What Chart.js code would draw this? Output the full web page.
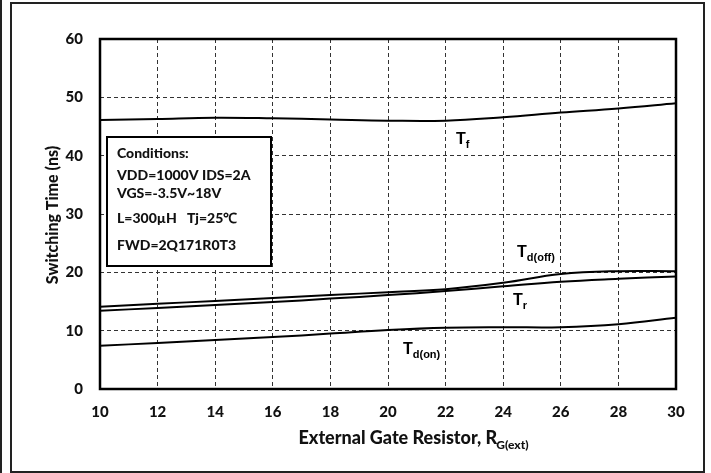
<!DOCTYPE html>
<html>
<head>
<meta charset="utf-8">
<script src="https://cdn.jsdelivr.net/npm/chart.js@4"></script>
<style>
  body { margin: 0; background: #fff; }
  #wrap { position: relative; width: 711px; height: 473px; }
  #chart { position: absolute; left: 0; top: 0; }
  .edge { position: absolute; left: 0; top: 0; width: 2px; height: 473px; background: #222; }
  .frame { position: absolute; left: 10px; top: 2px; width: 691px; height: 467px; border: 2px solid #222; pointer-events: none; }
</style>
</head>
<body>
<div id="wrap">
  <canvas id="chart" width="711" height="473"></canvas>
  <div class="edge"></div>
  <div class="frame"></div>
</div>
<script>
// ── DATA ──
const resistance = [10, 12, 14, 16, 18, 20, 22, 24, 26, 28, 30];
const tFall   = [46.1, 46.3, 46.5, 46.4, 46.2, 46.0, 46.0, 46.6, 47.4, 48.1, 49.0];
const tdOff   = [14.1, 14.6, 15.1, 15.6, 16.1, 16.6, 17.1, 18.2, 19.7, 20.2, 20.2];
const tRise   = [13.4, 13.9, 14.4, 14.9, 15.5, 16.1, 16.8, 17.6, 18.4, 18.9, 19.3];
const tdOn    = [7.4, 7.9, 8.4, 8.9, 9.5, 10.1, 10.5, 10.6, 10.6, 11.1, 12.2];
const yTicks  = [0, 10, 20, 30, 40, 50, 60];

// curve labels: [main, subscript, x value, y value]
const curveLabels = [
    ['T', 'f',      22.36, 42.0],
    ['T', 'd(off)', 24.48, 22.6],
    ['T', 'r',      24.34, 14.4],
    ['T', 'd(on)',  20.52, 6.0],
];

const conditions = [
    'Conditions:',
    'VDD=1000V IDS=2A',
    'VGS=-3.5V~18V',
    'L=300\u00b5H   Tj=25\u2103',
    'FWD=2Q171R0T3',
];

const TEXT = '#111';
const TICK_FONT = { family: 'Lato', size: 15, weight: 900 };
const GRID = { color: '#333', lineWidth: 1, drawTicks: false };

const toPoints = ys => resistance.map((x, i) => ({ x, y: ys[i] }));
const line = ys => ({
    data: toPoints(ys),
    borderColor: '#000',
    borderWidth: 2,
    pointRadius: 0,
    fill: false,
    tension: 0.4,
});

// ── OVERLAY: plot frame, conditions box, titles, curve labels ──
const overlay = {
    id: 'overlay',
    afterDatasetsDraw(chart) {
        const { ctx, chartArea: a, scales: { x, y } } = chart;
        ctx.save();

        // plot border
        ctx.strokeStyle = '#000';
        ctx.lineWidth = 2.5;
        ctx.strokeRect(a.left, a.top, a.right - a.left, a.bottom - a.top);

        // conditions box
        const bx = a.left + 7, by = a.top + 98, bw = 164, bh = 129;
        ctx.fillStyle = '#fff';
        ctx.fillRect(bx, by, bw, bh);
        ctx.lineWidth = 2;
        ctx.strokeRect(bx, by, bw, bh);
        ctx.fillStyle = TEXT;
        ctx.font = '900 14px Lato';
        ctx.textAlign = 'left';
        ctx.textBaseline = 'alphabetic';
        const baselines = [21, 43, 61, 86, 113];
        conditions.forEach((t, i) => ctx.fillText(t, bx + 10, by + baselines[i]));

        // curve labels with subscripts
        ctx.fillStyle = '#000';
        curveLabels.forEach(([main, sub, vx, vy]) => {
            const px = x.getPixelForValue(vx), py = y.getPixelForValue(vy);
            ctx.font = 'bold 16px "Liberation Sans"';
            ctx.fillText(main, px, py);
            const w = ctx.measureText(main).width;
            ctx.font = 'bold 11px "Liberation Sans"';
            ctx.fillText(sub, px + w, py + 4);
        });

        // y axis title
        ctx.fillStyle = TEXT;
        ctx.font = '900 16px Lato';
        ctx.save();
        ctx.translate(53, (a.top + a.bottom) / 2 + 1);
        ctx.rotate(-Math.PI / 2);
        ctx.textAlign = 'center';
        ctx.textBaseline = 'middle';
        ctx.fillText('Switching Time (ns)', 0, 0);
        ctx.restore();

        // x axis title
        const main = 'External Gate Resistor, R';
        ctx.font = '900 18px Lato';
        const mw = ctx.measureText(main).width;
        ctx.font = '900 12px Lato';
        const sw = ctx.measureText('G(ext)').width;
        const tx = (a.left + a.right) / 2 + 26 - (mw + sw) / 2;
        ctx.font = '900 18px Lato';
        ctx.fillText(main, tx, 444);
        ctx.font = '900 12px Lato';
        ctx.fillText('G(ext)', tx + mw - 1, 449);

        ctx.restore();
    }
};

new Chart(document.getElementById('chart'), {
    type: 'line',
    data: {
        datasets: [line(tFall), line(tdOff), line(tRise), line(tdOn)]
    },
    options: {
        responsive: false,
        animation: false,
        layout: { padding: { left: 0, top: 39, right: 35, bottom: 0 } },
        plugins: {
            legend: { display: false },
            tooltip: { enabled: false },
        },
        scales: {
            x: {
                type: 'linear',
                min: 10,
                max: 30,
                afterFit: s => { s.height = 84; },
                border: { display: false, dash: [4, 3] },
                grid: GRID,
                ticks: { stepSize: 2, padding: 14, color: TEXT, font: TICK_FONT, maxRotation: 0 },
            },
            y: {
                min: 0,
                max: 60,
                afterFit: s => { s.width = 100; },
                afterBuildTicks: s => { s.ticks = yTicks.map(v => ({ value: v })); },
                border: { display: false, dash: [4, 3] },
                grid: GRID,
                ticks: { padding: 17, color: TEXT, font: TICK_FONT },
            }
        }
    },
    plugins: [overlay]
});
</script>
</body>
</html>
